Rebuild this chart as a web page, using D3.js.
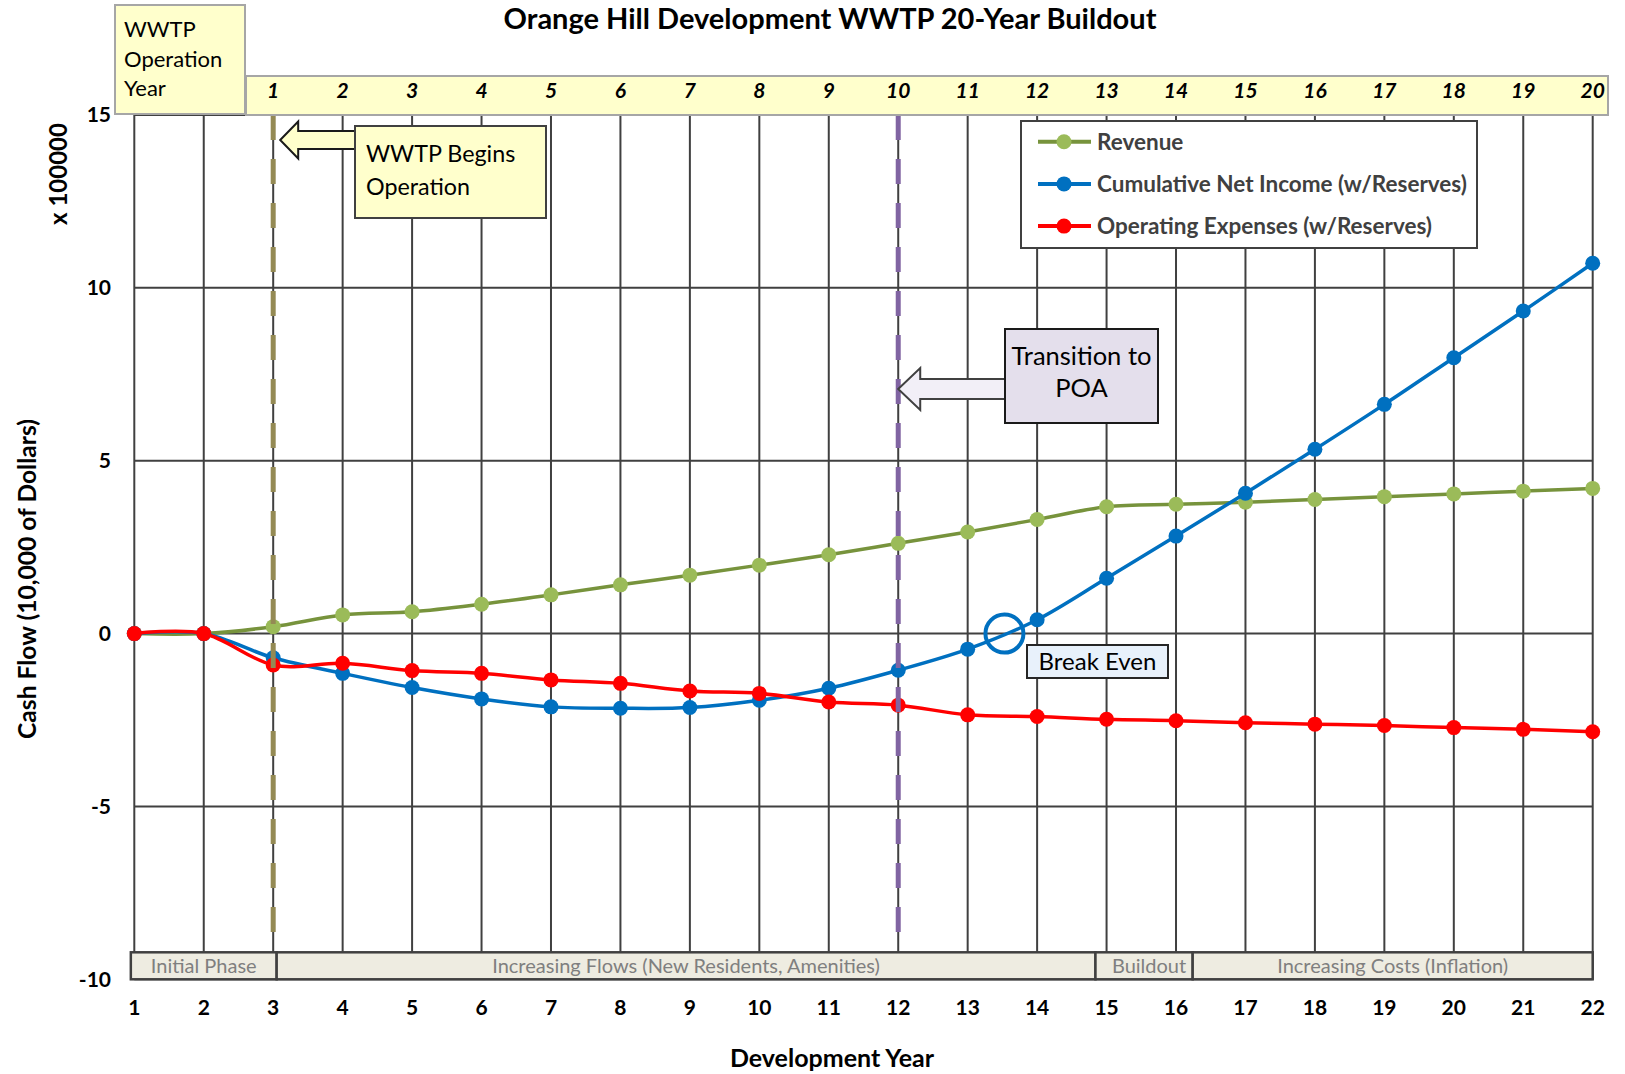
<!DOCTYPE html>
<html>
<head>
<meta charset="utf-8">
<script src="https://cdn.jsdelivr.net/npm/d3@7"></script>
<style>
  body { margin: 0; background: #fff; }
  svg text { font-family: Lato, "Open Sans", sans-serif; }
</style>
</head>
<body>
<div id="chart"></div>
<script>
// values (units of 100,000 $)
const devYears = [1, 2, 3, 4, 5, 6, 7, 8, 9, 10, 11, 12, 13, 14, 15, 16, 17, 18, 19, 20, 21, 22];
const opYears = [1, 2, 3, 4, 5, 6, 7, 8, 9, 10, 11, 12, 13, 14, 15, 16, 17, 18, 19, 20];
const opStartYear = 3; // dev year where WWTP op year 1 sits
const revenue = [0, 0, 0.2, 0.54, 0.63, 0.85, 1.12, 1.41, 1.69, 1.98, 2.28, 2.61, 2.94, 3.3, 3.67, 3.74, 3.8, 3.88, 3.96, 4.04, 4.12, 4.2];
const netIncome = [0, 0, -0.7, -1.15, -1.56, -1.89, -2.12, -2.16, -2.14, -1.93, -1.58, -1.06, -0.45, 0.4, 1.6, 2.82, 4.06, 5.33, 6.63, 7.98, 9.33, 10.71];
const opExpenses = [0, 0, -0.91, -0.86, -1.07, -1.15, -1.34, -1.44, -1.66, -1.73, -1.98, -2.07, -2.35, -2.4, -2.48, -2.52, -2.58, -2.62, -2.66, -2.72, -2.77, -2.84];
const yTicks = [-10, -5, 0, 5, 10, 15];
const seriesNames = ["Revenue", "Cumulative Net Income (w/Reserves)", "Operating Expenses (w/Reserves)"];
const phaseLabels = ["Initial Phase", "Increasing Flows (New Residents, Amenities)", "Buildout", "Increasing Costs (Inflation)"];
const phaseBounds = [0.95, 3.05, 14.84, 16.24, 22];
const wwtpStartYear = 3;
const poaYear = 12;

const svgWidth = 1625, svgHeight = 1074;

const svg = d3.select("#chart")
  .append("svg")
  .attr("width", svgWidth)
  .attr("height", svgHeight);

const xScale = d3.scaleLinear().domain([1, 22]).range([134.3, 1592.7]);
const yScale = d3.scaleLinear().domain([-10, 15]).range([979.3, 115]);

const series = [
  { name: seriesNames[0], values: revenue, line: "#77933C", dot: "#9BBB59" },
  { name: seriesNames[1], values: netIncome, line: "#0070C0", dot: "#0070C0" },
  { name: seriesNames[2], values: opExpenses, line: "#FF0000", dot: "#FF0000" }
];

// title
svg.append("text")
  .attr("x", 830).attr("y", 29)
  .attr("text-anchor", "middle")
  .style("font-size", "29px").style("font-weight", "bold")
  .text("Orange Hill Development WWTP 20-Year Buildout");

// ---------- grid ----------
const grid = svg.append("g").attr("stroke", "#404040").attr("stroke-width", 2);
grid.selectAll(".vgrid")
  .data(devYears)
  .enter().append("line")
  .attr("x1", d => xScale(d)).attr("x2", d => xScale(d))
  .attr("y1", yScale(15)).attr("y2", yScale(-10));
grid.selectAll(".hgrid")
  .data(yTicks)
  .enter().append("line")
  .attr("x1", xScale(1)).attr("x2", xScale(22))
  .attr("y1", d => yScale(d)).attr("y2", d => yScale(d));

// y tick labels
svg.append("g").selectAll("text")
  .data(yTicks)
  .enter().append("text")
  .attr("x", 111).attr("y", d => yScale(d))
  .attr("dy", "0.35em")
  .attr("text-anchor", "end")
  .style("font-size", "21px").style("font-weight", "bold")
  .text(d => d);

// x tick labels
svg.append("g").selectAll("text")
  .data(devYears)
  .enter().append("text")
  .attr("x", d => xScale(d)).attr("y", 1008)
  .attr("dy", "0.35em")
  .attr("text-anchor", "middle")
  .style("font-size", "21px").style("font-weight", "bold")
  .text(d => d);

// axis titles
svg.append("text")
  .attr("transform", "translate(27, 579) rotate(-90)")
  .attr("text-anchor", "middle").attr("dy", "0.35em")
  .style("font-size", "24.6px").style("font-weight", "bold")
  .text("Cash Flow (10,000 of Dollars)");
svg.append("text")
  .attr("transform", "translate(59, 174) rotate(-90)")
  .attr("text-anchor", "middle").attr("dy", "0.35em")
  .style("font-size", "24px").style("font-weight", "bold")
  .text("x 100000");
svg.append("text")
  .attr("x", 832).attr("y", 1058)
  .attr("text-anchor", "middle").attr("dy", "0.35em")
  .style("font-size", "25px").style("font-weight", "bold")
  .text("Development Year");

// ---------- phase boxes along the bottom ----------
const phases = phaseLabels.map((label, i) => ({ label, from: phaseBounds[i], to: phaseBounds[i + 1] }));
const phaseG = svg.append("g").selectAll("g")
  .data(phases)
  .enter().append("g");
phaseG.append("rect")
  .attr("x", d => xScale(d.from)).attr("width", d => xScale(d.to) - xScale(d.from))
  .attr("y", yScale(-10) - 27).attr("height", 27)
  .attr("fill", "#EEECE1").attr("stroke", "#404040").attr("stroke-width", 2.5);
phaseG.append("text")
  .attr("x", d => (xScale(d.from) + xScale(d.to)) / 2 + (d.label === "Buildout" ? 5 : 0))
  .attr("y", yScale(-10) - 13.5).attr("dy", "0.35em")
  .attr("text-anchor", "middle")
  .attr("fill", "#7F7F7F")
  .style("font-size", "20px")
  .text(d => d.label);

// ---------- series ----------
const lineGen = d3.line()
  .x((d, i) => xScale(devYears[i]))
  .y(d => yScale(d))
  .curve(d3.curveCatmullRom.alpha(0));

series.forEach(s => {
  svg.append("path")
    .datum(s.values)
    .attr("fill", "none")
    .attr("stroke", s.line)
    .attr("stroke-width", 3.5)
    .attr("d", lineGen);
  svg.append("g").selectAll("circle")
    .data(s.values)
    .enter().append("circle")
    .attr("cx", (d, i) => xScale(devYears[i]))
    .attr("cy", d => yScale(d))
    .attr("r", 7.5)
    .attr("fill", s.dot);
});

// ---------- marker lines ----------
svg.append("line")
  .attr("x1", xScale(wwtpStartYear)).attr("x2", xScale(wwtpStartYear))
  .attr("y1", yScale(15)).attr("y2", 938)
  .attr("stroke", "#948A54").attr("stroke-width", 5)
  .attr("stroke-dasharray", "25,19");
svg.append("line")
  .attr("x1", xScale(poaYear)).attr("x2", xScale(poaYear))
  .attr("y1", yScale(15)).attr("y2", 933)
  .attr("stroke", "#8064A2").attr("stroke-width", 5)
  .attr("stroke-dasharray", "25,19");

// ---------- header: WWTP operation year ----------
const header = svg.append("g");
header.append("rect")
  .attr("x", 115).attr("y", 5).attr("width", 130).attr("height", 109)
  .attr("fill", "#FFFFCC").attr("stroke", "#A6A6A6").attr("stroke-width", 2);
header.append("text")
  .attr("x", 124)
  .style("font-size", "22px")
  .selectAll("tspan")
  .data(["WWTP", "Operation", "Year"])
  .enter().append("tspan")
  .attr("x", 124).attr("y", (d, i) => 37 + i * 29.5)
  .text(d => d);
header.append("rect")
  .attr("x", 246).attr("y", 76).attr("width", 1362).attr("height", 39)
  .attr("fill", "#FFFFCC").attr("stroke", "#A6A6A6").attr("stroke-width", 2);
header.selectAll(".op")
  .data(opYears)
  .enter().append("text")
  .attr("x", d => xScale(d + opStartYear - 1)).attr("y", 98)
  .attr("text-anchor", "middle")
  .style("font-size", "21px").style("font-weight", "bold").style("font-style", "italic")
  .text(d => d);

// block arrow pointing left, tip at (tx, ty)
function leftArrow(tx, ty, headLen, headHalf, shaftHalf, tailX) {
  const hx = tx + headLen;
  return `M${tx},${ty} L${hx},${ty - headHalf} L${hx},${ty - shaftHalf} L${tailX},${ty - shaftHalf}` +
    ` L${tailX},${ty + shaftHalf} L${hx},${ty + shaftHalf} L${hx},${ty + headHalf} Z`;
}

// ---------- callout: WWTP begins ----------
svg.append("path")
  .attr("d", leftArrow(xScale(wwtpStartYear) + 7, 140, 18, 18.5, 9, 356))
  .attr("fill", "#FFFFCC").attr("stroke", "#1a1a1a").attr("stroke-width", 2);
svg.append("rect")
  .attr("x", 355).attr("y", 126).attr("width", 191).attr("height", 92)
  .attr("fill", "#FFFFCC").attr("stroke", "#404040").attr("stroke-width", 2);
svg.append("text")
  .style("font-size", "23.3px")
  .selectAll("tspan")
  .data(["WWTP Begins", "Operation"])
  .enter().append("tspan")
  .attr("x", 366).attr("y", (d, i) => 162 + i * 33)
  .text(d => d);

// ---------- callout: transition to POA ----------
svg.append("path")
  .attr("d", leftArrow(xScale(poaYear), 389, 22, 21, 10, 1006))
  .attr("fill", "#F2EFF7").attr("stroke", "#404040").attr("stroke-width", 2);
svg.append("rect")
  .attr("x", 1005).attr("y", 329).attr("width", 153).attr("height", 94)
  .attr("fill", "#E4DFEC").attr("stroke", "#1a1a1a").attr("stroke-width", 2);
svg.append("text")
  .attr("text-anchor", "middle")
  .style("font-size", "25.5px")
  .selectAll("tspan")
  .data(["Transition to", "POA"])
  .enter().append("tspan")
  .attr("x", 1081.5).attr("y", (d, i) => 365 + i * 32)
  .text(d => d);

// ---------- break even ----------
const k = netIncome.findIndex((v, i) => v >= 0 && devYears[i] > 2);
const y0 = netIncome[k - 1], y1 = netIncome[k];
const breakEven = devYears[k - 1] + (0 - y0) / (y1 - y0);
svg.append("circle")
  .attr("cx", xScale(breakEven)).attr("cy", yScale(0))
  .attr("r", 19)
  .attr("fill", "none").attr("stroke", "#0070C0").attr("stroke-width", 4);
svg.append("rect")
  .attr("x", 1027).attr("y", 645).attr("width", 141).attr("height", 33)
  .attr("fill", "#E8F1FB").attr("stroke", "#262626").attr("stroke-width", 2);
svg.append("text")
  .attr("x", 1097.5).attr("y", 661.5).attr("dy", "0.35em")
  .attr("text-anchor", "middle")
  .style("font-size", "24px")
  .text("Break Even");

// ---------- legend ----------
const legend = svg.append("g");
legend.append("rect")
  .attr("x", 1021).attr("y", 121).attr("width", 456).attr("height", 127)
  .attr("fill", "#fff").attr("stroke", "#404040").attr("stroke-width", 2);
const item = legend.selectAll(".item")
  .data(series)
  .enter().append("g")
  .attr("transform", (d, i) => `translate(0, ${141.7 + i * 42.2})`);
item.append("line")
  .attr("x1", 1038).attr("x2", 1091)
  .attr("stroke", d => d.line).attr("stroke-width", 4);
item.append("circle")
  .attr("cx", 1064).attr("r", 7.5)
  .attr("fill", d => d.dot);
item.append("text")
  .attr("x", 1097).attr("dy", "0.35em")
  .attr("fill", "#404040")
  .style("font-size", "22.5px").style("font-weight", "bold")
  .text(d => d.name);
</script>
</body>
</html>
